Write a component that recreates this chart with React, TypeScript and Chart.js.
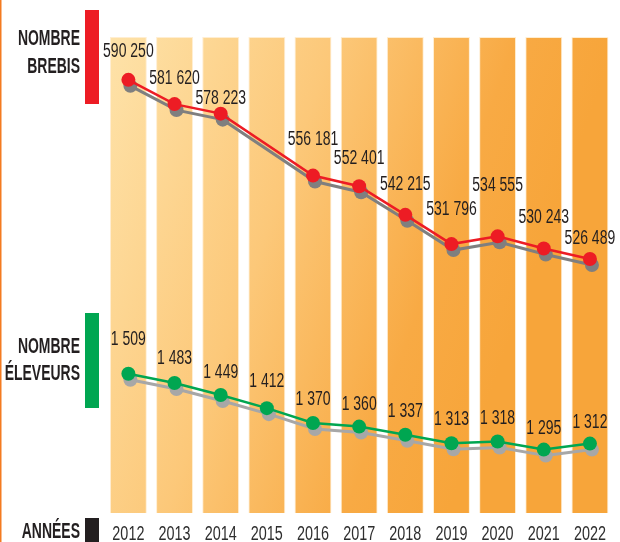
import React, { useEffect, useRef } from 'react';
import { Chart, registerables } from 'chart.js';

Chart.register(...registerables);

// ---- Data ----
const years = ['2012', '2013', '2014', '2015', '2016', '2017', '2018', '2019', '2020', '2021', '2022'];
const brebis: (number | null)[] = [590250, 581620, 578223, null, 556181, 552401, 542215, 531796, 534555, 530243, 526489];
const eleveurs = [1509, 1483, 1449, 1412, 1370, 1360, 1337, 1313, 1318, 1295, 1312];
// decorative background columns (full height)
const columns = years.map(() => 1);

// label lift above each point (px), layout only
const brebisLabelLift = [30, 27, 17, 0, 38, 29, 32, 36, 52, 32, 22];
const eleveursLabelLift = [36, 26, 24, 28, 25, 24, 25, 25, 24, 23, 23];

const fmt = (v: number) => String(v).replace(/\B(?=(\d{3})+(?!\d))/g, ' ');

const FONT = '"Liberation Sans", Arial, sans-serif';

function drawCondensed(
  ctx: CanvasRenderingContext2D,
  text: string,
  x: number,
  y: number,
  size: number,
  bold: boolean,
  scaleX: number,
  align: CanvasTextAlign,
  color: string
) {
  ctx.save();
  ctx.translate(x, y);
  ctx.scale(scaleX, 1);
  ctx.font = `${bold ? 'bold ' : ''}${size}px ${FONT}`;
  ctx.textAlign = align;
  ctx.textBaseline = 'alphabetic';
  ctx.fillStyle = color;
  ctx.fillText(text, 0, 0);
  ctx.restore();
}

const shadowPlugin = {
  id: 'shadowOffset',
  beforeDatasetDraw(chart: any, args: any) {
    const ds = chart.data.datasets[args.index];
    if (ds.isShadow) {
      chart.ctx.save();
      chart.ctx.translate(2, 6);
    }
  },
  afterDatasetDraw(chart: any, args: any) {
    const ds = chart.data.datasets[args.index];
    if (ds.isShadow) chart.ctx.restore();
  },
};

const decorPlugin = {
  id: 'decor',
  afterDraw(chart: any) {
    const ctx: CanvasRenderingContext2D = chart.ctx;
    const xScale = chart.scales.x;
    // left orange edge
    ctx.save();
    ctx.fillStyle = '#f47b20';
    ctx.fillRect(0, 0, 1.5, chart.height);
    // legend-like bars
    ctx.fillStyle = '#ed1c24';
    ctx.fillRect(85, 10, 14, 94);
    ctx.fillStyle = '#00a651';
    ctx.fillRect(85, 313, 14, 95);
    ctx.fillStyle = '#231f20';
    ctx.fillRect(85, 518, 14, 24);
    ctx.restore();

    const dark = '#231f20';
    drawCondensed(ctx, 'NOMBRE', 80, 45, 22, true, 0.635, 'right', dark);
    drawCondensed(ctx, 'BREBIS', 80, 73, 22, true, 0.635, 'right', dark);
    drawCondensed(ctx, 'NOMBRE', 80, 353, 22, true, 0.635, 'right', dark);
    drawCondensed(ctx, 'ÉLEVEURS', 80, 380, 22, true, 0.635, 'right', dark);
    drawCondensed(ctx, 'ANNÉES', 80, 538, 22, true, 0.635, 'right', dark);

    // year labels
    years.forEach((y, i) => {
      const px = xScale.getPixelForValue(i);
      drawCondensed(ctx, y, px, 540, 20, false, 0.72, 'center', '#2e2e2e');
    });

    // value labels
    const mB = chart.getDatasetMeta(3);
    brebis.forEach((v, i) => {
      if (v == null) return;
      const pt = mB.data[i];
      drawCondensed(ctx, fmt(v), pt.x, pt.y - brebisLabelLift[i] + 7, 20, false, 0.7, 'center', dark);
    });
    const mE = chart.getDatasetMeta(4);
    eleveurs.forEach((v, i) => {
      const pt = mE.data[i];
      drawCondensed(ctx, fmt(v), pt.x, pt.y - eleveursLabelLift[i] + 7, 20, false, 0.7, 'center', dark);
    });
  },
};

function columnFill(c: any) {
  const chart = c.chart;
  const area = chart.chartArea;
  if (!area) return '#fbc66e';
  const g = chart.ctx.createLinearGradient(area.left, area.top, area.left + 455, area.top + 163);
  g.addColorStop(0, '#fee3aa');
  g.addColorStop(0.45, '#fcc879');
  g.addColorStop(0.8, '#f8aa44');
  g.addColorStop(1, '#f7a53a');
  return g;
}

export default function App() {
  const ref = useRef<HTMLCanvasElement | null>(null);
  useEffect(() => {
    if (!ref.current) return;
    const chart = new Chart(ref.current, {
      type: 'bar',
      data: {
        labels: years,
        datasets: [
          {
            type: 'bar',
            data: columns,
            yAxisID: 'yBar',
            backgroundColor: columnFill,
            borderColor: 'rgba(255,236,205,0.9)',
            borderWidth: 1,
            categoryPercentage: 1,
            barPercentage: 0.8,
            order: 10,
          } as any,
          {
            type: 'line',
            data: brebis,
            yAxisID: 'yB',
            borderColor: '#7f7f7f',
            backgroundColor: '#7f7f7f',
            pointBackgroundColor: '#7f7f7f',
            pointBorderWidth: 0,
            pointRadius: 7,
            borderWidth: 3,
            spanGaps: true,
            clip: false,
            order: 5,
            isShadow: true,
          } as any,
          {
            type: 'line',
            data: eleveurs,
            yAxisID: 'yE',
            borderColor: '#a7a7a7',
            backgroundColor: '#a7a7a7',
            pointBackgroundColor: '#a7a7a7',
            pointBorderWidth: 0,
            pointRadius: 7,
            borderWidth: 3,
            clip: false,
            order: 5,
            isShadow: true,
          } as any,
          {
            type: 'line',
            data: brebis,
            yAxisID: 'yB',
            borderColor: '#ed1c24',
            backgroundColor: '#ed1c24',
            pointBackgroundColor: '#ed1c24',
            pointBorderWidth: 0,
            pointRadius: 7,
            borderWidth: 2.5,
            spanGaps: true,
            clip: false,
            order: 1,
          } as any,
          {
            type: 'line',
            data: eleveurs,
            yAxisID: 'yE',
            borderColor: '#00a651',
            backgroundColor: '#00a651',
            pointBackgroundColor: '#00a651',
            pointBorderWidth: 0,
            pointRadius: 7,
            borderWidth: 2.5,
            clip: false,
            order: 1,
          } as any,
        ],
      },
      options: {
        responsive: false,
        maintainAspectRatio: false,
        devicePixelRatio: 1,
        animation: false,
        layout: { padding: { left: 105.3, right: 5.3, top: 37, bottom: 29 } },
        plugins: { legend: { display: false }, tooltip: { enabled: false } },
        scales: {
          x: { type: 'category', display: false, offset: true, grid: { display: false } },
          yBar: { display: false, min: 0, max: 1 },
          yB: { display: false, min: 436100, max: 605500 },
          yE: { display: false, min: 1116, max: 2460 },
        },
      },
      plugins: [shadowPlugin, decorPlugin],
    });
    return () => chart.destroy();
  }, []);
  return (
    <div style={{ position: 'absolute', left: 0, top: 0, width: 620, height: 542, background: '#fff' }}>
      <canvas ref={ref} width={620} height={542} style={{ display: 'block' }} />
    </div>
  );
}
